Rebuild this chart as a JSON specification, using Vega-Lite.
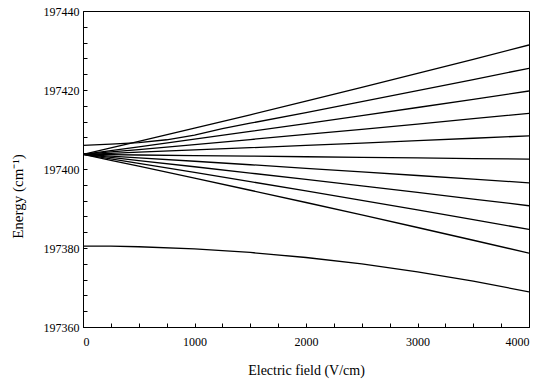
{
  "$schema": "https://vega.github.io/schema/vega-lite/v6.json",
  "width": 446,
  "height": 316,
  "autosize": {"type": "none"},
  "padding": {"left": 83, "top": 11, "right": 14, "bottom": 57},
  "background": "white",
  "config": {
    "view": {"stroke": "black", "strokeWidth": 1},
    "font": "Liberation Serif"
  },
  "datasets": {
    "lines": [
      {"line": "k5", "F": 0, "E": 197403.70}, {"line": "k5", "F": 250, "E": 197405.34}, {"line": "k5", "F": 500, "E": 197407.00}, {"line": "k5", "F": 1000, "E": 197410.34}, {"line": "k5", "F": 1500, "E": 197413.73}, {"line": "k5", "F": 2000, "E": 197417.17}, {"line": "k5", "F": 2500, "E": 197420.65}, {"line": "k5", "F": 3000, "E": 197424.19}, {"line": "k5", "F": 3500, "E": 197427.77}, {"line": "k5", "F": 4000, "E": 197431.40},
      {"line": "k4", "F": 0, "E": 197406.00}, {"line": "k4", "F": 250, "E": 197406.30}, {"line": "k4", "F": 500, "E": 197406.70}, {"line": "k4", "F": 750, "E": 197407.40}, {"line": "k4", "F": 1000, "E": 197408.60}, {"line": "k4", "F": 1250, "E": 197410.20}, {"line": "k4", "F": 1500, "E": 197411.59}, {"line": "k4", "F": 2000, "E": 197414.29}, {"line": "k4", "F": 2500, "E": 197417.04}, {"line": "k4", "F": 3000, "E": 197419.82}, {"line": "k4", "F": 3500, "E": 197422.64}, {"line": "k4", "F": 4000, "E": 197425.50},
      {"line": "k3", "F": 0, "E": 197403.70}, {"line": "k3", "F": 250, "E": 197404.65}, {"line": "k3", "F": 500, "E": 197405.61}, {"line": "k3", "F": 1000, "E": 197407.54}, {"line": "k3", "F": 1500, "E": 197409.50}, {"line": "k3", "F": 2000, "E": 197411.50}, {"line": "k3", "F": 2500, "E": 197413.51}, {"line": "k3", "F": 3000, "E": 197415.57}, {"line": "k3", "F": 3500, "E": 197417.64}, {"line": "k3", "F": 4000, "E": 197419.75},
      {"line": "k2", "F": 0, "E": 197403.70}, {"line": "k2", "F": 250, "E": 197404.31}, {"line": "k2", "F": 500, "E": 197404.93}, {"line": "k2", "F": 1000, "E": 197406.18}, {"line": "k2", "F": 1500, "E": 197407.46}, {"line": "k2", "F": 2000, "E": 197408.75}, {"line": "k2", "F": 2500, "E": 197410.05}, {"line": "k2", "F": 3000, "E": 197411.38}, {"line": "k2", "F": 3500, "E": 197412.73}, {"line": "k2", "F": 4000, "E": 197414.10},
      {"line": "k1", "F": 0, "E": 197403.70}, {"line": "k1", "F": 250, "E": 197403.98}, {"line": "k1", "F": 500, "E": 197404.25}, {"line": "k1", "F": 1000, "E": 197404.82}, {"line": "k1", "F": 1500, "E": 197405.39}, {"line": "k1", "F": 2000, "E": 197405.97}, {"line": "k1", "F": 2500, "E": 197406.56}, {"line": "k1", "F": 3000, "E": 197407.17}, {"line": "k1", "F": 3500, "E": 197407.78}, {"line": "k1", "F": 4000, "E": 197408.40},
      {"line": "k0", "F": 0, "E": 197403.70}, {"line": "k0", "F": 250, "E": 197403.63}, {"line": "k0", "F": 500, "E": 197403.55}, {"line": "k0", "F": 1000, "E": 197403.40}, {"line": "k0", "F": 1500, "E": 197403.25}, {"line": "k0", "F": 2000, "E": 197403.10}, {"line": "k0", "F": 2500, "E": 197402.95}, {"line": "k0", "F": 3000, "E": 197402.80}, {"line": "k0", "F": 3500, "E": 197402.65}, {"line": "k0", "F": 4000, "E": 197402.50},
      {"line": "m1", "F": 0, "E": 197403.70}, {"line": "m1", "F": 250, "E": 197403.27}, {"line": "m1", "F": 500, "E": 197402.84}, {"line": "m1", "F": 1000, "E": 197401.96}, {"line": "m1", "F": 1500, "E": 197401.08}, {"line": "m1", "F": 2000, "E": 197400.18}, {"line": "m1", "F": 2500, "E": 197399.28}, {"line": "m1", "F": 3000, "E": 197398.36}, {"line": "m1", "F": 3500, "E": 197397.44}, {"line": "m1", "F": 4000, "E": 197396.50},
      {"line": "m2", "F": 0, "E": 197403.70}, {"line": "m2", "F": 250, "E": 197402.93}, {"line": "m2", "F": 500, "E": 197402.14}, {"line": "m2", "F": 1000, "E": 197400.57}, {"line": "m2", "F": 1500, "E": 197398.97}, {"line": "m2", "F": 2000, "E": 197397.36}, {"line": "m2", "F": 2500, "E": 197395.72}, {"line": "m2", "F": 3000, "E": 197394.07}, {"line": "m2", "F": 3500, "E": 197392.39}, {"line": "m2", "F": 4000, "E": 197390.70},
      {"line": "m3", "F": 0, "E": 197403.70}, {"line": "m3", "F": 250, "E": 197402.57}, {"line": "m3", "F": 500, "E": 197401.43}, {"line": "m3", "F": 1000, "E": 197399.13}, {"line": "m3", "F": 1500, "E": 197396.80}, {"line": "m3", "F": 2000, "E": 197394.44}, {"line": "m3", "F": 2500, "E": 197392.05}, {"line": "m3", "F": 3000, "E": 197389.63}, {"line": "m3", "F": 3500, "E": 197387.18}, {"line": "m3", "F": 4000, "E": 197384.70},
      {"line": "m4", "F": 0, "E": 197403.70}, {"line": "m4", "F": 250, "E": 197402.21}, {"line": "m4", "F": 500, "E": 197400.71}, {"line": "m4", "F": 1000, "E": 197397.69}, {"line": "m4", "F": 1500, "E": 197394.62}, {"line": "m4", "F": 2000, "E": 197391.52}, {"line": "m4", "F": 2500, "E": 197388.38}, {"line": "m4", "F": 3000, "E": 197385.19}, {"line": "m4", "F": 3500, "E": 197381.96}, {"line": "m4", "F": 4000, "E": 197378.70},
      {"line": "low", "F": 0, "E": 197380.50}, {"line": "low", "F": 250, "E": 197380.45}, {"line": "low", "F": 500, "E": 197380.32}, {"line": "low", "F": 1000, "E": 197379.78}, {"line": "low", "F": 1500, "E": 197378.87}, {"line": "low", "F": 2000, "E": 197377.60}, {"line": "low", "F": 2500, "E": 197375.97}, {"line": "low", "F": 3000, "E": 197373.98}, {"line": "low", "F": 3500, "E": 197371.62}, {"line": "low", "F": 4000, "E": 197368.90}
    ]
  },
  "data": {"name": "lines"},
  "mark": {"type": "line", "color": "black", "strokeWidth": 1.3, "clip": true},
  "encoding": {
    "x": {
      "field": "F", "type": "quantitative",
      "scale": {"domain": [0, 4000], "nice": false, "zero": false},
      "axis": {
        "title": "Electric field (V/cm)",
        "values": [0, 250, 500, 750, 1000, 1250, 1500, 1750, 2000, 2250, 2500, 2750, 3000, 3250, 3500, 3750, 4000],
        "labelExpr": "datum.value % 1000 === 0 ? format(datum.value, 'd') : ''",
        "grid": false, "domainColor": "black", "tickColor": "black",
        "tickSize": -4, "labelPadding": 13, "labelColor": "black",
        "labelFont": "Liberation Serif", "labelFontSize": 12,
        "titleFont": "Liberation Serif", "titleFontSize": 14, "titleFontWeight": "normal",
        "titleColor": "black", "titlePadding": 16
      }
    },
    "y": {
      "field": "E", "type": "quantitative",
      "scale": {"domain": [197360, 197440], "nice": false, "zero": false},
      "axis": {
        "title": "Energy (cm⁻¹)",
        "values": [197360, 197364, 197368, 197372, 197376, 197380, 197384, 197388, 197392, 197396, 197400, 197404, 197408, 197412, 197416, 197420, 197424, 197428, 197432, 197436, 197440],
        "labelExpr": "datum.value % 20 === 0 ? format(datum.value, 'd') : ''",
        "grid": false, "domainColor": "black", "tickColor": "black",
        "tickSize": -4, "labelPadding": 8, "labelColor": "black",
        "labelFont": "Liberation Serif", "labelFontSize": 12,
        "titleFont": "Liberation Serif", "titleFontSize": 15, "titleFontWeight": "normal",
        "titleColor": "black", "titleX": -58, "titleY": 185
      }
    },
    "detail": {"field": "line", "type": "nominal"}
  }
}
